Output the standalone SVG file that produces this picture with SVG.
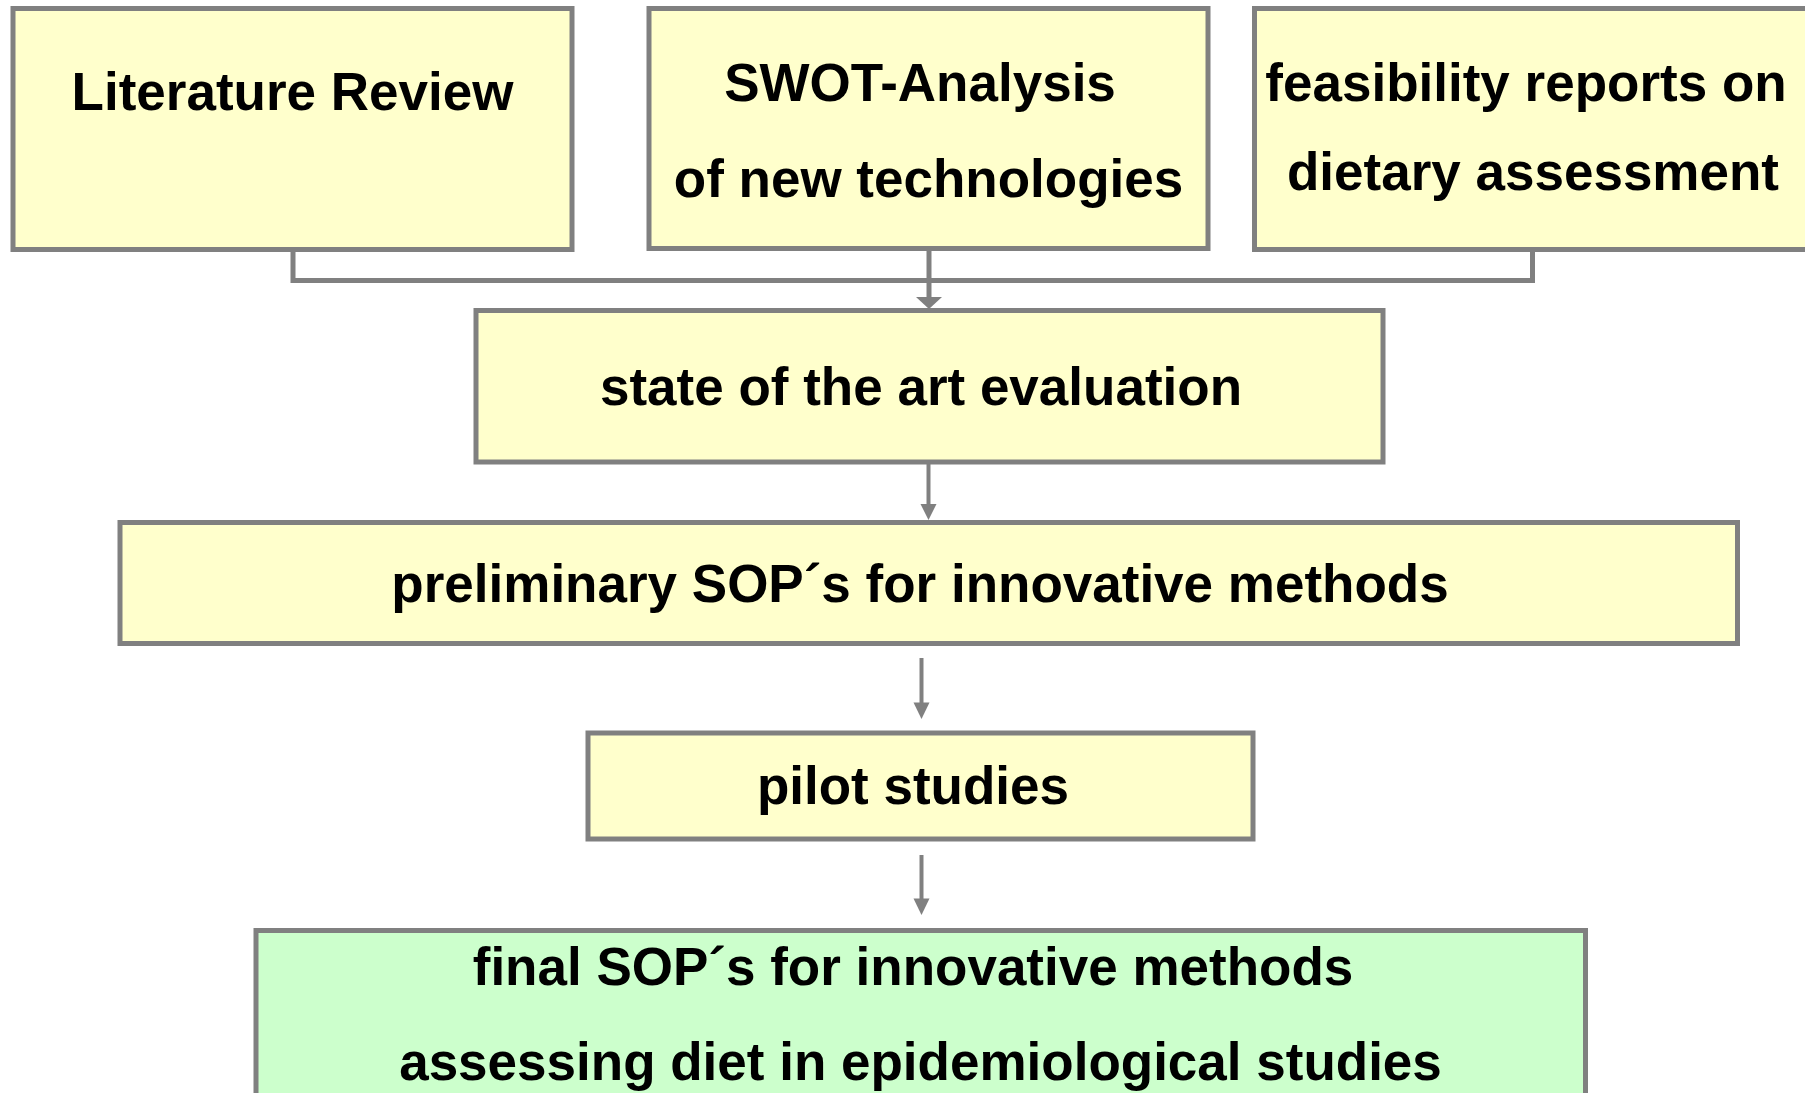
<svg xmlns="http://www.w3.org/2000/svg" width="1805" height="1093" viewBox="0 0 1805 1093">
<style>
.box{fill:#FFFFCC;stroke:#808080;stroke-width:5}
.final{fill:#CCFFCC;stroke:#808080;stroke-width:5}
.lbl{font-family:"Liberation Sans",Arial,sans-serif;font-weight:bold;font-size:53px;fill:#000;text-anchor:middle}
.conn{fill:none;stroke:#808080;stroke-width:5}
.head{fill:#808080;stroke:none}
</style>
<rect width="1805" height="1093" fill="#FFFFFF"/>
<g id="connectors">
<path class="conn" d="M293,250 V280.5 H1532.5 V250"/>
<line class="conn" x1="929" y1="250" x2="929" y2="298"/>
<polygon class="head" points="916,297 942,297 929,309"/>
<line class="conn" x1="928.5" y1="462" x2="928.5" y2="506" style="stroke-width:4"/>
<polygon class="head" points="920.5,504 936.5,504 928.5,520"/>
<line class="conn" x1="921.5" y1="658" x2="921.5" y2="704" style="stroke-width:4"/>
<polygon class="head" points="913.5,702.5 929.5,702.5 921.5,719"/>
<line class="conn" x1="921.5" y1="855" x2="921.5" y2="900" style="stroke-width:4"/>
<polygon class="head" points="913.5,898.5 929.5,898.5 921.5,915"/>
</g>
<g id="literature-review">
<rect class="box" x="13" y="8.5" width="559" height="241"/>
<text class="lbl" x="292.5" y="110">Literature Review</text>
</g>
<g id="swot-analysis">
<rect class="box" x="649" y="8.5" width="559" height="240"/>
<text class="lbl" x="920" y="101">SWOT-Analysis</text>
<text class="lbl" x="928.5" y="197">of new technologies</text>
</g>
<g id="feasibility-reports">
<rect class="box" x="1254.5" y="8.5" width="580" height="241"/>
<text class="lbl" x="1526" y="101">feasibility reports on</text>
<text class="lbl" x="1533" y="190">dietary assessment</text>
</g>
<g id="state-of-the-art">
<rect class="box" x="476" y="310.5" width="907" height="151.5"/>
<text class="lbl" x="921" y="405">state of the art evaluation</text>
</g>
<g id="preliminary-sops">
<rect class="box" x="120" y="522.5" width="1617.5" height="121"/>
<text class="lbl" x="920" y="602">preliminary SOP´s for innovative methods</text>
</g>
<g id="pilot-studies">
<rect class="box" x="588" y="733" width="665" height="106"/>
<text class="lbl" x="913" y="804">pilot studies</text>
</g>
<g id="final-sops">
<rect class="final" x="256" y="930.5" width="1329.5" height="200"/>
<text class="lbl" x="913" y="985">final SOP´s for innovative methods</text>
<text class="lbl" x="920.5" y="1080">assessing diet in epidemiological studies</text>
</g>
</svg>
